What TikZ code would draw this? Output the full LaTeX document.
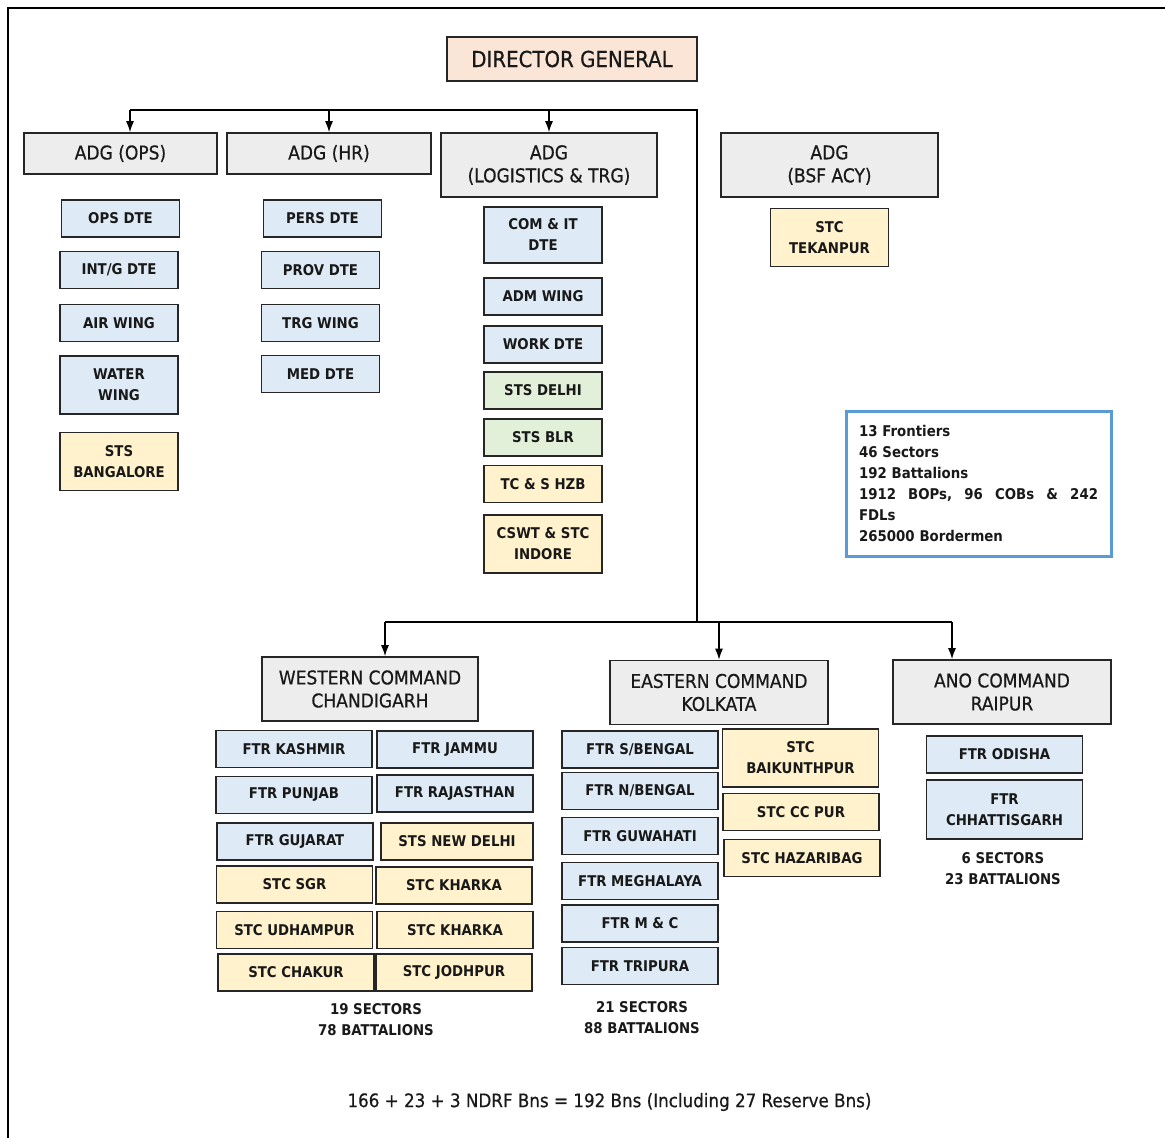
\documentclass[tikz,border=0pt]{standalone}
\usepackage{fontspec}
\setmainfont{DejaVu Sans Condensed}
\newfontfamily\headfont{DejaVu Sans Condensed}[FakeBold=0.6]
\usepackage{tikz}
\usetikzlibrary{
    arrows.meta,
    positioning,
    calc,
}

\definecolor{hdgray}{HTML}{EDEDED}
\definecolor{dteblue}{HTML}{DEEBF7}
\definecolor{stcyellow}{HTML}{FFF2CC}
\definecolor{stsgreen}{HTML}{E2F0D9}
\definecolor{dgpeach}{HTML}{FBE5D6}
\definecolor{infoblue}{HTML}{5B9BD5}

\begin{document}
\begin{tikzpicture}[
    x=1pt, y=-1pt,
    head/.style={draw=black!85, fill=hdgray, line width=1.6pt, align=center, inner sep=0pt,
                 text=black!90, font=\headfont\fontsize{19}{23}\selectfont},
    unit/.style={draw=black!85, line width=1.5pt, align=center, inner sep=0pt,
                 minimum width=118pt, minimum height=37pt, text=black!90,
                 font=\bfseries\fontsize{14.8}{21}\selectfont},
    dte/.style={unit, fill=dteblue},
    stc/.style={unit, fill=stcyellow},
    sts/.style={unit, fill=stsgreen},
    wide/.style={minimum width=156pt},
    tall/.style={minimum height=58pt},
    tally/.style={align=center, inner sep=0pt, text=black!90, font=\bfseries\fontsize{14.8}{21}\selectfont},
    bus/.style={line width=2.8pt},
    feed/.style={line width=1.4pt, -{Latex[length=11pt,width=8pt]}}
]
\useasboundingbox (0,0) rectangle (1165,1138);
\draw[line width=2pt] (8,1138) -- (8,8) -- (1165,8);

\node[head, fill=dgpeach, minimum width=250pt, minimum height=44pt,
    font=\headfont\fontsize{22}{26}\selectfont] (dg) at (572,59) {DIRECTOR GENERAL};

\node[head, minimum width=193pt, minimum height=41pt] (adgops) at (120.5,153.5) {ADG (OPS)};
\node[head, minimum width=204pt, minimum height=41pt] (adghr) at (329,153.5) {ADG (HR)};
\node[head, minimum width=216pt, minimum height=64pt] (adglog) at (549,165) {ADG\\(LOGISTICS \& TRG)};
\node[head, minimum width=217pt, minimum height=64pt] (adgacy) at (829.5,165) {ADG\\(BSF ACY)};

\node[dte] (opsdte) at (120.5,218.5) {OPS DTE};
\node[dte] (intdte) at (119,270) {INT/G DTE};
\node[dte] (airwing) at (119,323) {AIR WING};
\node[dte, tall] (waterwing) at (119,385) {WATER\\WING};
\node[stc, tall] (stsblore) at (119,461.5) {STS\\BANGALORE};

\node[dte] (persdte) at (322.5,218.5) {PERS DTE};
\node[dte] (provdte) at (320.5,270) {PROV DTE};
\node[dte] (trgwing) at (320.5,323) {TRG WING};
\node[dte] (meddte) at (320.5,374) {MED DTE};

\node[dte, minimum height=56pt] (comdte) at (543,235) {COM \& IT\\DTE};
\node[dte] (admwing) at (543,296.5) {ADM WING};
\node[dte] (workdte) at (543,344.5) {WORK DTE};
\node[sts] (stsdelhi) at (543,390.5) {STS DELHI};
\node[sts] (stsblr) at (543,437.5) {STS BLR};
\node[stc] (tcshzb) at (543,484) {TC \& S HZB};
\node[stc, tall] (cswt) at (543,544) {CSWT \& STC\\INDORE};

\node[stc, tall] (tekanpur) at (829.5,237.5) {STC\\TEKANPUR};

\node[draw=infoblue, line width=3pt, text width=239pt, inner xsep=13pt, inner ysep=0pt,
    minimum height=145pt, align=left, text=black!90,
    font=\bfseries\fontsize{14.8}{21}\selectfont] (strength) at (978.5,483.5)
    {13 Frontiers\\46 Sectors\\192 Battalions\\
     1912\hfill BOPs,\hfill 96\hfill COBs\hfill \&\hfill 242\\FDLs\\265000 Bordermen};

\node[head, minimum width=216pt, minimum height=64pt] (westcmd) at (370,689) {WESTERN COMMAND\\CHANDIGARH};
\node[head, minimum width=218pt, minimum height=64pt] (eastcmd) at (719,692.5) {EASTERN COMMAND\\KOLKATA};
\node[head, minimum width=218pt, minimum height=64pt] (anocmd) at (1002,692) {ANO COMMAND\\RAIPUR};

\node[dte, wide] (kashmir) at (294,749) {FTR KASHMIR};
\node[dte, wide] (jammu) at (455,749.5) {FTR JAMMU};
\node[dte, wide] (punjab) at (294,795) {FTR PUNJAB};
\node[dte, wide] (rajasthan) at (455,793.5) {FTR RAJASTHAN};
\node[dte, wide] (gujarat) at (295,841.5) {FTR GUJARAT};
\node[stc, minimum width=152pt] (newdelhi) at (457,841.5) {STS NEW DELHI};
\node[stc, wide] (sgr) at (294.5,884.5) {STC SGR};
\node[stc, wide] (kharka) at (454,885.5) {STC KHARKA};
\node[stc, wide] (udhampur) at (294.5,930) {STC UDHAMPUR};
\node[stc, wide] (kharkb) at (455,930) {STC KHARKA};
\node[stc, wide] (chakur) at (296,972.5) {STC CHAKUR};
\node[stc, wide] (jodhpur) at (454,972.5) {STC JODHPUR};
\node[tally] (westsum) at (376,1019.5) {19 SECTORS\\78 BATTALIONS};

\node[dte, wide] (sbengal) at (640,749.5) {FTR S/BENGAL};
\node[dte, wide] (nbengal) at (640,791) {FTR N/BENGAL};
\node[dte, wide] (guwahati) at (640,836) {FTR GUWAHATI};
\node[dte, wide] (meghalaya) at (640,881) {FTR MEGHALAYA};
\node[dte, wide] (mandc) at (640,923.5) {FTR M \& C};
\node[dte, wide] (tripura) at (640,966) {FTR TRIPURA};
\node[stc, wide, tall] (baikunthpur) at (800.5,758) {STC\\BAIKUNTHPUR};
\node[stc, wide] (ccpur) at (801,812) {STC CC PUR};
\node[stc, wide] (hazaribag) at (802,858) {STC HAZARIBAG};
\node[tally] (eastsum) at (642,1018) {21 SECTORS\\88 BATTALIONS};

\node[dte, wide] (odisha) at (1004.5,754.5) {FTR ODISHA};
\node[dte, wide, minimum height=59pt] (chhattisgarh) at (1004.5,809.5) {FTR\\CHHATTISGARH};
\node[tally] (anosum) at (1003,869) {6 SECTORS\\23 BATTALIONS};

\node[text=black!90, font=\headfont\fontsize{18.6}{23}\selectfont] (bnsum) at (609.5,1102)
    {166 + 23 + 3 NDRF Bns = 192 Bns (Including 27 Reserve Bns)};

\coordinate (topend) at (130,110);
\coordinate (topbend) at (697,110);
\coordinate (lowbend) at (697,622);
\coordinate (lowleft) at (385,622);
\coordinate (lowright) at (952,622);

\draw[bus] (topend) -- (topbend) -- (lowbend);
\draw[bus] (lowleft) -- (lowright);
\draw[feed] (topend) -- (topend |- adgops.north);
\draw[feed] (adghr.north |- topbend) -- (adghr.north);
\draw[feed] (adglog.north |- topbend) -- (adglog.north);
\draw[feed] (lowleft) -- (lowleft |- westcmd.north);
\draw[feed] (eastcmd.north |- lowbend) -- (eastcmd.north);
\draw[feed] (lowright) -- (lowright |- anocmd.north);

\end{tikzpicture}
\end{document}
